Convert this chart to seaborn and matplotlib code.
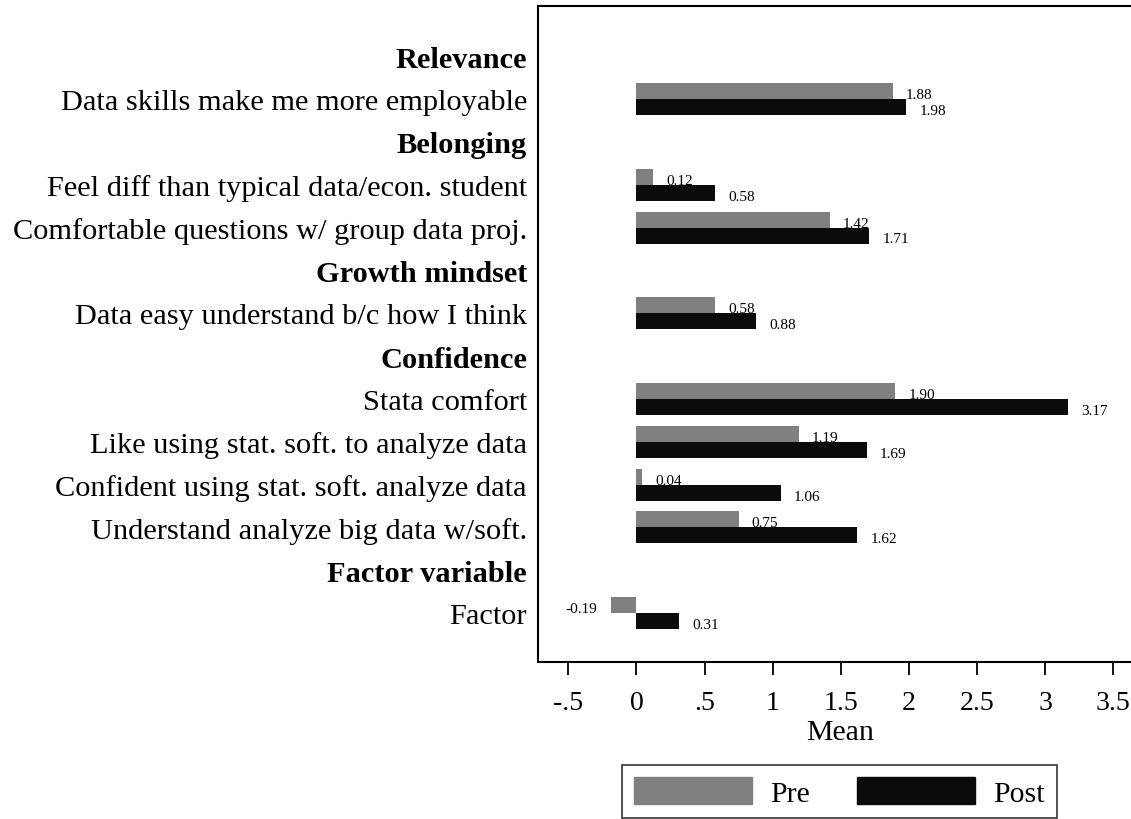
import pandas as pd
import numpy as np
import matplotlib
matplotlib.use("Agg")
import matplotlib.pyplot as plt
import seaborn as sns

# rows top to bottom; headers carry no bars
rows = ['Relevance',
        'Data skills make me more employable',
        'Belonging',
        'Feel diff than typical data/econ. student',
        'Comfortable questions w/ group data proj.',
        'Growth mindset',
        'Data easy understand b/c how I think',
        'Confidence',
        'Stata comfort',
        'Like using stat. soft. to analyze data',
        'Confident using stat. soft. analyze data',
        'Understand analyze big data w/soft.',
        'Factor variable',
        'Factor']
headers = ['Relevance', 'Belonging', 'Growth mindset', 'Confidence', 'Factor variable']

items = ['Data skills make me more employable',
         'Feel diff than typical data/econ. student',
         'Comfortable questions w/ group data proj.',
         'Data easy understand b/c how I think',
         'Stata comfort',
         'Like using stat. soft. to analyze data',
         'Confident using stat. soft. analyze data',
         'Understand analyze big data w/soft.',
         'Factor']
pre = [1.88, 0.12, 1.42, 0.58, 1.90, 1.19, 0.04, 0.75, -0.19]
post = [1.98, 0.58, 1.71, 0.88, 3.17, 1.69, 1.06, 1.62, 0.31]

xticks = [-0.5, 0, 0.5, 1, 1.5, 2, 2.5, 3, 3.5]
xticklabels = ['-.5', '0', '.5', '1', '1.5', '2', '2.5', '3', '3.5']

df = pd.DataFrame({'item': items * 2,
                   'mean': pre + post,
                   'period': ['Pre'] * len(items) + ['Post'] * len(items)})

sns.set_theme(style='white')
plt.rcParams['font.family'] = ['Liberation Serif', 'DejaVu Serif']
plt.rcParams['axes.unicode_minus'] = False
plt.rcParams['text.color'] = 'black'
plt.rcParams['axes.labelcolor'] = 'black'
plt.rcParams['xtick.color'] = 'black'
plt.rcParams['ytick.color'] = 'black'

fig = plt.figure(figsize=(11.31, 8.2), dpi=100)
ax = fig.add_axes([538 / 1131, 1 - 663 / 820, (1154 - 538) / 1131, (663 - 7) / 820])

sns.barplot(data=df, x='mean', y='item', hue='period', order=rows,
            hue_order=['Pre', 'Post'], palette={'Pre': '#808080', 'Post': '#0b0b0b'},
            orient='h', width=0.746, saturation=1, errorbar=None, ax=ax,
            edgecolor='none', linewidth=0)

for cont in ax.containers:
    anns = ax.bar_label(cont, fmt='%.2f', padding=9.5, fontsize=11, color='black')
    for a in anns:
        dx, dy = a.xyann
        a.xyann = (dx, dy - 2.5)

ax.set_xlim(-0.723, 3.8)
ax.set_ylim(14.14, -1.17)
ax.set_xticks(xticks)
ax.set_xticklabels(xticklabels, fontsize=20)
ax.tick_params(axis='x', length=9, width=1.3, colors='black', pad=11, direction='out', bottom=True)
ax.tick_params(axis='y', length=0, pad=8, colors='black')
ax.set_yticks(range(len(rows)))
ax.set_yticklabels(rows, fontsize=21.9)
for lab in ax.get_yticklabels():
    if lab.get_text() in headers:
        lab.set_fontweight('bold')
ax.set_ylabel('')
ax.set_xlabel('Mean', fontsize=21.5, labelpad=0)
ax.xaxis.set_label_coords(0.49, -0.0875)

for s in ax.spines.values():
    s.set_color('black')
    s.set_linewidth(1.5)

ax.get_legend().remove()
handles = [plt.Rectangle((0, 0), 1, 1, color='#808080'),
           plt.Rectangle((0, 0), 1, 1, color='#0b0b0b')]
leg = fig.legend(handles, ['Pre', 'Post'], loc='upper left',
                 bbox_to_anchor=(622 / 1131, 1 - 766 / 820), ncol=2,
                 fontsize=21.5, frameon=True, fancybox=False, shadow=False,
                 handlelength=3.95, handleheight=1.0, handletextpad=0.6,
                 columnspacing=1.6, borderpad=0.4, borderaxespad=0)
leg.get_frame().set_edgecolor('black')
leg.get_frame().set_linewidth(1.2)
for t in leg.get_texts():
    t.set_color('black')

fig.savefig('out.png', dpi=100)
